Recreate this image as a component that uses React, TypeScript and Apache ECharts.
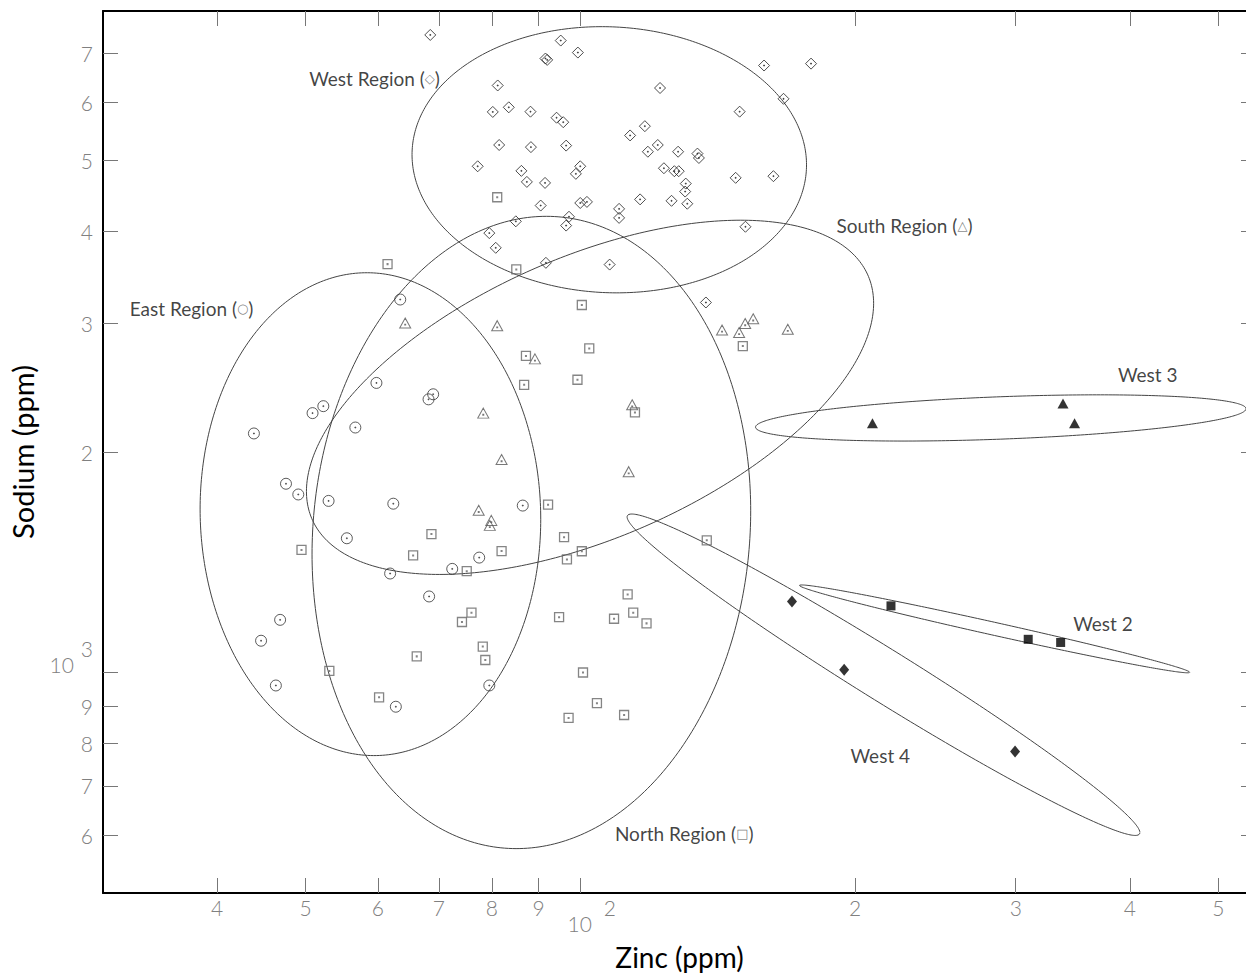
import React, { useEffect, useRef } from "react";
import * as echarts from "echarts";

// ---- axis ranges and ticks (raw ppm values) ----
const zincRange = [30, 550];
const sodiumRange = [500, 8000];
const zincTicks = [40, 50, 60, 70, 80, 90, 100, 200, 300, 400, 500];
const sodiumTicks = [600, 700, 800, 900, 1000, 2000, 3000, 4000, 5000, 6000, 7000];

// ---- samples: [zinc ppm, sodium ppm] ----
const westRegion = [
  [68.5, 7420], [95.2, 7290], [91.6, 6890], [92.0, 6860], [99.4, 7020], [159, 6740], [179, 6780],
  [81.2, 6330], [122.3, 6280], [167, 6070], [149.5, 5830], [80.2, 5825], [83.5, 5910], [88.2, 5830],
  [94.2, 5720], [95.8, 5640], [117.7, 5570], [113.4, 5410], [81.5, 5250], [88.3, 5215], [96.5, 5240],
  [121.6, 5250], [118.6, 5140], [128, 5140], [134.4, 5110], [134.9, 5040], [77.2, 4910], [100, 4910],
  [98.9, 4795], [86.2, 4840], [123.5, 4880], [126.8, 4835], [128.2, 4835], [148, 4735], [162.8, 4760],
  [87.4, 4675], [91.5, 4660], [130.5, 4650], [130.3, 4535], [90.5, 4340], [100, 4375], [101.7, 4390],
  [116.3, 4425], [125.9, 4405], [131, 4365], [110.3, 4295], [110.3, 4175], [97.2, 4190], [96.5, 4075],
  [85, 4130], [79.5, 3980], [80.8, 3800], [91.7, 3625], [107.7, 3605], [151.7, 4060], [137.3, 3200],
];
const eastRegion = [
  [63.5, 3230], [59.8, 2485], [50.9, 2260], [52.3, 2310], [43.9, 2120], [56.7, 2160], [68.2, 2360],
  [69.0, 2398], [47.6, 1810], [49.1, 1750], [53, 1715], [62.4, 1700], [55.5, 1525], [61.9, 1365],
  [68.3, 1270], [46.9, 1180], [44.7, 1105], [46.4, 960], [62.8, 898], [86.5, 1690], [77.5, 1435],
  [72.4, 1385], [79.5, 960],
];
const northRegion = [
  [61.5, 3610], [81.1, 4455], [85.1, 3550], [100.4, 3175], [102.3, 2770], [87.2, 2705], [86.8, 2470],
  [99.3, 2510], [114.8, 2265], [150.7, 2790], [137.6, 1515], [92.2, 1695], [68.7, 1545], [96, 1530],
  [49.5, 1470], [65.6, 1445], [82, 1465], [100.4, 1464], [96.7, 1427], [75.1, 1375], [76, 1207],
  [74.2, 1172], [94.8, 1190], [112.7, 1278], [114.3, 1207], [108.9, 1184], [118.2, 1167], [78.2, 1085],
  [78.7, 1040], [66.2, 1052], [53.1, 1005], [100.7, 1000], [60.2, 925], [104.3, 908], [97.1, 867],
  [111.7, 875],
];
const southRegion = [
  [64.3, 3000], [81.1, 2975], [89.2, 2680], [78.3, 2260], [82, 1953], [114, 2320], [113, 1880],
  [143, 2935], [149.3, 2912], [151.6, 2995], [154.7, 3040], [168.8, 2942], [77.4, 1665], [79.9, 1613],
  [79.6, 1588],
];
const west3 = [[209, 2190], [338, 2330], [348, 2190]];
const west2 = [[219, 1233], [309.6, 1110], [336, 1099]];
const west4 = [[170.6, 1250], [194.6, 1009], [299.5, 780]];

// ---- ellipses: [centre zinc, centre sodium, sd log10 zinc, sd log10 sodium, correlation] ----
const westRegionEllipse = [107.6, 5012, 0.2161, 0.1817, -0.0384];
const southRegionEllipse = [102.5, 2375, 0.3107, 0.2418, 0.531];
const eastRegionEllipse = [58.9, 1645, 0.1866, 0.3296, -0.021];
const northRegionEllipse = [88.4, 1553, 0.2403, 0.4316, 0.0684];
const west3Ellipse = [288.9, 2226, 0.2687, 0.03155, 0.398];
const west2Ellipse = [284.4, 1147, 0.2138, 0.05997, -0.9886];
const west4Ellipse = [214.9, 993, 0.2809, 0.2194, -0.9818];

// ---- region labels ----
const labelNames = ["West Region", "South Region", "East Region", "North Region", "West 3", "West 2", "West 4"];
const labelSymbols = ["◇", "△", "○", "□", "", "", ""];
const labelAnchors = [
  [50.4, 6480], [190.6, 4080], [32.05, 3140], [109, 602], [387.7, 2550], [346.4, 1166], [197.5, 770],
];

const L = (v: number) => Math.log10(v);
const toLog = (pts: number[][]) => pts.map(([x, y]) => [L(x), L(y)]);

function ellipseOutline(e: number[]) {
  const [cx, cy, sx, sy, rho] = e;
  const lx = L(cx), ly = L(cy);
  const k = Math.sqrt(1 - rho * rho);
  const out: number[][] = [];
  for (let i = 0; i <= 360; i++) {
    const t = (i * Math.PI) / 180;
    out.push([lx + sx * Math.cos(t), ly + sy * (rho * Math.cos(t) + k * Math.sin(t))]);
  }
  return out;
}

const DOT = "M4.6 4.6L5.4 4.6L5.4 5.4L4.6 5.4Z";
const SYM_DIAMOND = "path://M5 0L10 5L5 10L0 5Z" + DOT;
const SYM_CIRCLE = "path://M0 5A5 5 0 1 1 10 5A5 5 0 1 1 0 5Z" + DOT;
const SYM_SQUARE = "path://M0 0L10 0L10 10L0 10Z" + DOT;
const SYM_TRIANGLE = "path://M5 0L10 9L0 9Z M4.6 5.6L5.4 5.6L5.4 6.4L4.6 6.4Z";

const TICK_FONT = "Lato";
const tickFormatter = (v: number) => {
  const exp = Math.floor(v + 1e-9);
  const lead = Math.round(Math.pow(10, v) / Math.pow(10, exp));
  if (lead === 1) return `{b|10}{s|${exp}}`;
  return String(lead);
};

export default function App() {
  const ref = useRef<HTMLDivElement>(null);
  useEffect(() => {
    document.body.style.margin = "0";
    document.body.style.overflow = "hidden";
    if (!ref.current) return;
    const chart = echarts.init(ref.current, undefined, { renderer: "svg" });

    const xTicks = zincTicks.map(L);
    const yTicks = sodiumTicks.map(L);
    const tickStyle = { lineStyle: { color: "#777", width: 1 } };
    const axisLineStyle = { show: true, onZero: false, lineStyle: { color: "#000", width: 2 } };
    const baseLabel = { color: "#808080", fontSize: 21, fontFamily: TICK_FONT, fontWeight: 300 };

    const ellipseSeries = (e: number[]) => ({
      type: "line",
      data: ellipseOutline(e),
      showSymbol: false,
      symbol: "none",
      smooth: false,
      silent: true,
      lineStyle: { color: "#444", width: 1 },
      z: 1,
    });

    const openScatter = (data: number[][], symbol: string, size: any, color: string, width = 1) => ({
      type: "scatter",
      data: toLog(data),
      symbol,
      symbolSize: size,
      itemStyle: { color: "rgba(0,0,0,0)", borderColor: color, borderWidth: width },
      z: 3,
    });
    const filledScatter = (data: number[][], symbol: string, size: any) => ({
      type: "scatter",
      data: toLog(data),
      symbol,
      symbolSize: size,
      itemStyle: { color: "#000" },
      z: 4,
    });

    const labelData = labelNames.map((n, i) => ({
      value: [L(labelAnchors[i][0]), L(labelAnchors[i][1])],
      name: n,
      sym: labelSymbols[i],
    }));

    chart.setOption({
      animation: false,
      backgroundColor: "#fff",
      grid: { left: 103, top: 11, width: 1153, height: 882, containLabel: false, outerBoundsMode: "none" },
      xAxis: [
        {
          type: "value",
          min: L(zincRange[0]),
          max: L(zincRange[1]),
          position: "bottom",
          axisLine: axisLineStyle,
          axisTick: { show: true, inside: true, length: 15, customValues: xTicks, ...tickStyle },
          axisLabel: {
            show: true,
            customValues: xTicks,
            formatter: tickFormatter,
            margin: 4,
            ...baseLabel,
            rich: {
              b: { ...baseLabel, padding: [16, 0, 0, 23], verticalAlign: "top" },
              s: { ...baseLabel, padding: [0, 0, 0, 12], verticalAlign: "top" },
            },
          },
          splitLine: { show: false },
          name: "Zinc (ppm)",
          nameLocation: "middle",
          nameGap: 50,
          nameTextStyle: { fontFamily: "Lato", fontSize: 28, lineHeight: 28, color: "#000" },
        },
        {
          type: "value",
          min: L(zincRange[0]),
          max: L(zincRange[1]),
          position: "top",
          axisLine: axisLineStyle,
          axisTick: { show: true, inside: true, length: 15, customValues: xTicks, ...tickStyle },
          axisLabel: { show: false },
          splitLine: { show: false },
        },
      ],
      yAxis: [
        {
          type: "value",
          min: L(sodiumRange[0]),
          max: L(sodiumRange[1]),
          position: "left",
          axisLine: axisLineStyle,
          axisTick: { show: true, inside: true, length: 15, customValues: yTicks, ...tickStyle },
          axisLabel: {
            show: true,
            customValues: yTicks,
            formatter: tickFormatter,
            margin: 10,
            ...baseLabel,
            rich: {
              b: { ...baseLabel, padding: [16, 0, 32, 0], verticalAlign: "top" },
              s: { ...baseLabel, padding: [0, 0, 0, 7], verticalAlign: "top" },
            },
          },
          splitLine: { show: false },
          name: "Sodium (ppm)",
          nameLocation: "middle",
          nameRotate: 90,
          nameGap: 66,
          nameTextStyle: { fontFamily: "Lato", fontSize: 29, color: "#000" },
        },
        {
          type: "value",
          min: L(sodiumRange[0]),
          max: L(sodiumRange[1]),
          position: "right",
          axisLine: axisLineStyle,
          axisTick: { show: true, inside: true, length: 15, customValues: yTicks, ...tickStyle },
          axisLabel: { show: false },
          splitLine: { show: false },
        },
      ],
      series: [
        ellipseSeries(westRegionEllipse),
        ellipseSeries(southRegionEllipse),
        ellipseSeries(eastRegionEllipse),
        ellipseSeries(northRegionEllipse),
        ellipseSeries(west3Ellipse),
        ellipseSeries(west2Ellipse),
        ellipseSeries(west4Ellipse),
        openScatter(westRegion, SYM_DIAMOND, 11, "#222"),
        openScatter(eastRegion, SYM_CIRCLE, 11, "#333"),
        openScatter(northRegion, SYM_SQUARE, 9, "#666", 1.3),
        openScatter(southRegion, SYM_TRIANGLE, [11, 10], "#555"),
        filledScatter(west3, "triangle", [11, 10]),
        filledScatter(west2, "rect", [9, 9]),
        filledScatter(west4, "diamond", [10, 12]),
        {
          type: "scatter",
          data: labelData,
          symbol: "circle",
          symbolSize: 1,
          silent: true,
          itemStyle: { color: "rgba(0,0,0,0)" },
          label: {
            show: true,
            position: "right",
            distance: 0,
            formatter: (p: any) =>
              p.data.sym ? `{t|${p.data.name} (}{s|${p.data.sym}}{t|)}` : `{t|${p.data.name}}`,
            rich: {
              t: { fontFamily: "Lato", fontSize: 19, color: "#111" },
              s: { fontFamily: "DejaVu Sans", fontSize: 13, color: "#666" },
            },
          },
          z: 5,
        },
      ],
    });
    return () => chart.dispose();
  }, []);
  return <div ref={ref} style={{ width: 1246, height: 974 }} />;
}
